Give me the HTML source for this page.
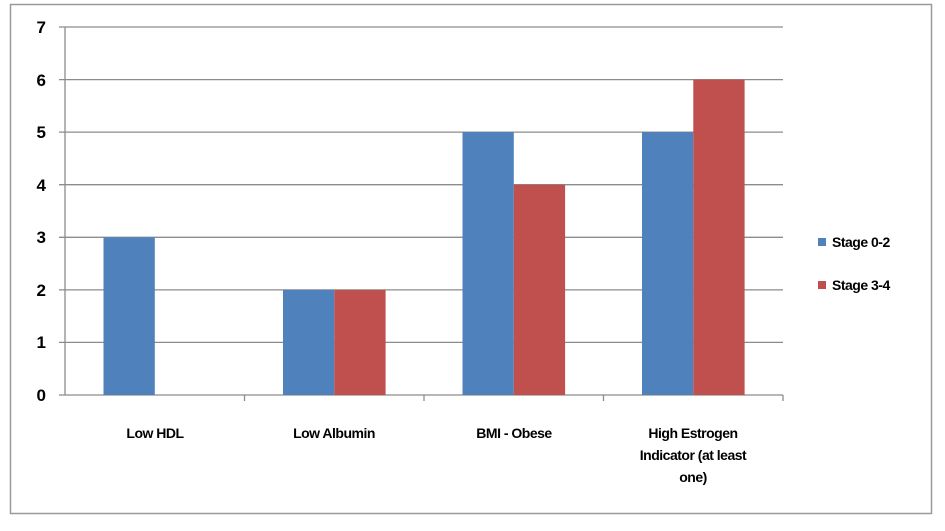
<!DOCTYPE html>
<html><head><style>
body{margin:0;background:#fff;}
svg text{font-family:"Liberation Sans",sans-serif;font-weight:bold;fill:#000;}
</style></head><body>
<svg width="945" height="526" xmlns="http://www.w3.org/2000/svg">
<rect x="10.5" y="4.5" width="921" height="509" fill="#fff" stroke="#9a9a9a" stroke-width="1.5"/>
<g stroke="#8c8c8c" stroke-width="1.3">
<line x1="59" y1="27" x2="783" y2="27"/>
<line x1="59" y1="79.6" x2="783" y2="79.6"/>
<line x1="59" y1="132.1" x2="783" y2="132.1"/>
<line x1="59" y1="184.7" x2="783" y2="184.7"/>
<line x1="59" y1="237.3" x2="783" y2="237.3"/>
<line x1="59" y1="289.9" x2="783" y2="289.9"/>
<line x1="59" y1="342.4" x2="783" y2="342.4"/>
<line x1="59" y1="395" x2="783" y2="395"/>
<line x1="65" y1="27" x2="65" y2="395"/>
<line x1="244.5" y1="395" x2="244.5" y2="401"/>
<line x1="424" y1="395" x2="424" y2="401"/>
<line x1="603.5" y1="395" x2="603.5" y2="401"/>
<line x1="783" y1="395" x2="783" y2="401"/>
</g>
<g fill="#4f81bd">
<rect x="103.5" y="237.3" width="51.3" height="157.7"/>
<rect x="283" y="289.9" width="51.3" height="105.1"/>
<rect x="462.5" y="132.1" width="51.3" height="262.9"/>
<rect x="642" y="132.1" width="51.3" height="262.9"/>
</g>
<g fill="#c0504d">
<rect x="334.3" y="289.9" width="51.3" height="105.1"/>
<rect x="513.8" y="184.7" width="51.3" height="210.3"/>
<rect x="693.3" y="79.6" width="51.3" height="315.4"/>
</g>
<g font-size="17" text-anchor="end">
<text x="46" y="33">7</text><text x="46" y="86">6</text><text x="46" y="138">5</text>
<text x="46" y="191">4</text><text x="46" y="243">3</text><text x="46" y="296">2</text>
<text x="46" y="348">1</text><text x="46" y="401">0</text>
</g>
<g font-size="14" text-anchor="middle" letter-spacing="-0.5">
<text x="155" y="438">Low HDL</text>
<text x="334" y="438">Low Albumin</text>
<text x="514" y="438">BMI - Obese</text>
<text x="693" y="438">High Estrogen</text>
<text x="693" y="460">Indicator (at least</text>
<text x="693" y="482">one)</text>
</g>
<rect x="818" y="238" width="8" height="8" fill="#4f81bd"/>
<rect x="818" y="281" width="8" height="8" fill="#c0504d"/>
<g font-size="14" letter-spacing="-0.5">
<text x="832" y="247">Stage 0-2</text>
<text x="832" y="290">Stage 3-4</text>
</g>
</svg>
</body></html>
